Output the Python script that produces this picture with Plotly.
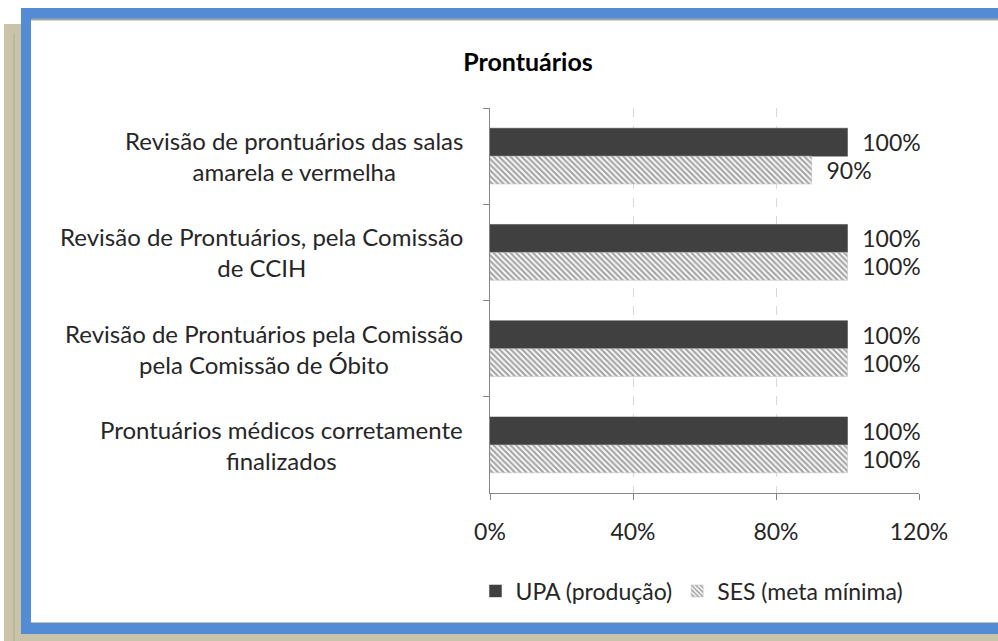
import plotly.graph_objects as go

categories = [
    "Revisão de prontuários das salas<br>amarela e vermelha",
    "Revisão de Prontuários, pela Comissão<br>de CCIH",
    "Revisão de Prontuários pela Comissão<br>pela Comissão de Óbito",
    "Prontuários médicos corretamente<br>finalizados",
]
upa_values = [1.00, 1.00, 1.00, 1.00]
ses_values = [0.90, 1.00, 1.00, 1.00]
series_names = ["UPA (produção)", "SES (meta mínima)"]
title_text = "Prontuários"

W, H = 998, 641
L, R, T, B = 490, 919, 108, 493
FONT = "Lato"
TXT = "#262626"


def px(x):
    return (x - L) / (R - L)


def py(y):
    return (B - y) / (B - T)


fig = go.Figure()
fig.add_trace(go.Bar(
    y=categories, x=upa_values, orientation="h", name=series_names[0],
    marker=dict(color="#404040", line=dict(color="#404040", width=0.5)),
    text=["\u00a0\u00a0" + f"{v:.0%}" for v in upa_values],
    textposition="outside", cliponaxis=False, constraintext="none",
    textfont=dict(size=23, color=TXT, family=FONT),
))
fig.add_trace(go.Bar(
    y=categories, x=ses_values, orientation="h", name=series_names[1],
    marker=dict(color="white",
                line=dict(color="#bfbfbf", width=0.5),
                pattern=dict(shape="\\", fgcolor="#4d4d4d", bgcolor="white",
                             size=4, solidity=0.55)),
    text=["\u00a0\u00a0" + f"{v:.0%}" for v in ses_values],
    textposition="outside", cliponaxis=False, constraintext="none",
    textfont=dict(size=23, color=TXT, family=FONT),
))

shapes = [
    dict(type="rect", xref="paper", yref="paper", x0=px(4), x1=px(998), y0=py(24), y1=py(641),
         fillcolor="#c9c4a9", line=dict(width=0), layer="below"),
    dict(type="line", xref="paper", yref="paper", x0=px(14), x1=px(14), y0=py(34), y1=py(641),
         line=dict(color="#b0aa8c", width=1), layer="below"),
    dict(type="rect", xref="paper", yref="paper", x0=px(21), x1=px(998), y0=py(8), y1=py(634),
         fillcolor="#538cd4", line=dict(width=0), layer="below"),
    dict(type="rect", xref="paper", yref="paper", x0=px(31), x1=px(998), y0=py(19), y1=py(623),
         fillcolor="white", line=dict(width=0), layer="below"),
    dict(type="line", xref="paper", yref="paper", x0=px(31), x1=px(998), y0=py(19.5), y1=py(19.5),
         line=dict(color="#a6a6a6", width=2), layer="below"),
    dict(type="line", xref="paper", yref="paper", x0=px(31), x1=px(998), y0=py(622.5), y1=py(622.5),
         line=dict(color="#c0c0c0", width=1), layer="below"),
]

annotations = []
for c in categories:
    annotations.append(dict(
        x=0, xref="paper", y=c, yref="y", xanchor="right", yanchor="middle",
        xshift=-25, text=c, showarrow=False, align="center",
        font=dict(size=24, color=TXT, family=FONT),
    ))

fig.update_layout(
    width=W, height=H,
    margin=dict(l=L, r=W - R, t=T, b=H - B, pad=0),
    paper_bgcolor="white", plot_bgcolor="rgba(0,0,0,0)",
    barmode="group", bargap=0.42, bargroupgap=0,
    title=dict(text="<b>" + title_text + "</b>", x=528 / W, xref="container", xanchor="center",
               y=1 - 62 / H, yref="container", yanchor="middle",
               font=dict(size=25, color="#000000", family=FONT)),
    xaxis=dict(range=[0, 1.2], dtick=0.4, tick0=0, tickformat=".0%",
               showgrid=True, gridcolor="#d9d9d9", griddash="dash", gridwidth=1,
               showline=True, linecolor="#868686", linewidth=1,
               ticks="outside", ticklen=6, tickcolor="#868686",
               zeroline=False, tickfont=dict(size=23, color=TXT, family=FONT),
               ticklabelstandoff=12),
    yaxis=dict(autorange="reversed", showticklabels=False, showline=True,
               linecolor="#868686", linewidth=1, ticks="outside", tickson="boundaries",
               ticklen=6, tickcolor="#868686", showgrid=False, zeroline=False),
    showlegend=True,
    legend=dict(orientation="h", x=px(692), xanchor="center", y=py(591), yanchor="middle",
                font=dict(size=23, color=TXT, family=FONT), bgcolor="rgba(0,0,0,0)",
                itemwidth=30, tracegroupgap=0),
    shapes=shapes, annotations=annotations,
)

fig.write_html("out.html", config={"displayModeBar": False},
               post_script="document.body.style.margin='0';document.body.style.overflow='hidden';")
